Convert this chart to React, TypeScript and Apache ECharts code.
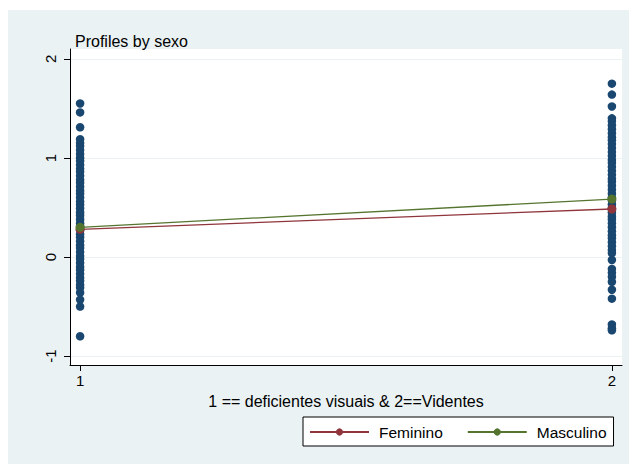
import React, { useEffect, useRef } from "react";
import * as echarts from "echarts";

const xTicks = [1, 2];
const yTicks = [-1, 0, 1, 2];

const group1Values = [
  1.55, 1.46, 1.31, 1.19, 1.15, 1.12, 1.08, 1.04, 1.0, 0.97, 0.93, 0.89, 0.86, 0.82,
  0.78, 0.75, 0.71, 0.67, 0.64, 0.6, 0.56, 0.53, 0.49, 0.45, 0.42, 0.38, 0.34, 0.31,
  0.27, 0.23, 0.2, 0.16, 0.12, 0.09, 0.05, 0.01, -0.02, -0.06, -0.1, -0.13, -0.17,
  -0.21, -0.24, -0.28, -0.31, -0.36, -0.43, -0.5, -0.8,
];
const group2Values = [
  1.75, 1.64, 1.52, 1.4, 1.37, 1.33, 1.29, 1.25, 1.21, 1.18, 1.14, 1.1, 1.06, 1.02,
  0.98, 0.95, 0.91, 0.87, 0.83, 0.79, 0.76, 0.72, 0.68, 0.64, 0.6, 0.57, 0.53, 0.49,
  0.45, 0.41, 0.38, 0.34, 0.3, 0.26, 0.22, 0.19, 0.15, 0.11, 0.07, 0.04, -0.03, -0.12,
  -0.16, -0.2, -0.25, -0.33, -0.42, -0.68, -0.72, -0.74,
];

const femininoMeans = [0.28, 0.485];
const masculinoMeans = [0.3, 0.585];

const seriesNames = ["Feminino", "Masculino"];

export default function App() {
  const ref = useRef<HTMLDivElement>(null);
  useEffect(() => {
    document.body.style.margin = "0";
    const chart = echarts.init(ref.current!, null, { renderer: "svg" });
    const scatterData: number[][] = [
      ...group1Values.map((v) => [1, v]),
      ...group2Values.map((v) => [2, v]),
    ];
    const font = "'Liberation Sans', Arial, sans-serif";
    chart.setOption({
      animation: false,
      backgroundColor: "#ffffff",
      textStyle: { fontFamily: font },
      graphic: [
        {
          type: "rect",
          left: 8,
          top: 10,
          shape: { width: 621, height: 454 },
          style: { fill: "#eaf2f3" },
          z: -10,
          silent: true,
        },
      ],
      title: {
        text: "Profiles by sexo",
        left: 70,
        top: 28,
        textStyle: { fontFamily: font, fontSize: 16, fontWeight: "normal", color: "#000" },
      },
      legend: {
        data: seriesNames,
        left: 303,
        top: 417,
        padding: [7, 7, 6, 6],
        itemGap: 24,
        itemWidth: 59,
        itemHeight: 9,
        backgroundColor: "#fff",
        borderColor: "#000",
        borderWidth: 1,
        borderRadius: 0,
        textStyle: { fontFamily: font, fontSize: 15.5, color: "#000", padding: [0, 0, 0, 5] },
      },
      grid: {
        left: 70,
        right: 7,
        top: 49,
        bottom: 99,
        show: true,
        backgroundColor: "#fff",
        borderWidth: 0,
      },
      xAxis: {
        type: "value",
        min: 0.981,
        max: 2.019,
        name: "1 == deficientes visuais & 2==Videntes",
        nameLocation: "middle",
        nameGap: 28,
        nameTextStyle: { fontFamily: font, fontSize: 16, color: "#000" },
        axisLine: { show: true, onZero: false, lineStyle: { color: "#000", width: 1 } },
        axisTick: { show: true, length: 6, customValues: xTicks, lineStyle: { color: "#000" } },
        axisLabel: {
          customValues: xTicks,
          fontFamily: font,
          fontSize: 15,
          color: "#000",
          margin: 8,
          showMinLabel: true,
          showMaxLabel: true,
        },
        splitLine: { show: false },
      },
      yAxis: {
        type: "value",
        min: -1.09,
        max: 2.1,
        axisLine: { show: true, onZero: false, lineStyle: { color: "#000", width: 1 } },
        axisTick: { show: true, length: 6, customValues: yTicks, lineStyle: { color: "#000" } },
        axisLabel: {
          customValues: yTicks,
          rotate: 90,
          fontFamily: font,
          fontSize: 15,
          color: "#000",
          margin: 12,
          showMinLabel: true,
          showMaxLabel: true,
        },
        splitLine: { show: true, lineStyle: { color: "#eaf2f3", width: 1 } },
      },
      series: [
        {
          type: "scatter",
          name: "points",
          data: scatterData,
          symbol: "circle",
          symbolSize: 8.5,
          itemStyle: { color: "#1a476f", opacity: 1 },
          z: 1,
        },
        {
          type: "line",
          name: seriesNames[0],
          data: xTicks.map((x, i) => [x, femininoMeans[i]]),
          symbol: "circle",
          symbolSize: 9,
          showSymbol: true,
          lineStyle: { color: "#90353b", width: 1.3 },
          itemStyle: { color: "#90353b" },
          z: 3,
        },
        {
          type: "line",
          name: seriesNames[1],
          data: xTicks.map((x, i) => [x, masculinoMeans[i]]),
          symbol: "circle",
          symbolSize: 9,
          showSymbol: true,
          lineStyle: { color: "#55752f", width: 1.3 },
          itemStyle: { color: "#55752f" },
          z: 4,
        },
      ],
    });
    return () => chart.dispose();
  }, []);
  return (
    <div
      ref={ref}
      style={{ position: "absolute", left: 0, top: 0, width: 629, height: 464 }}
    />
  );
}
